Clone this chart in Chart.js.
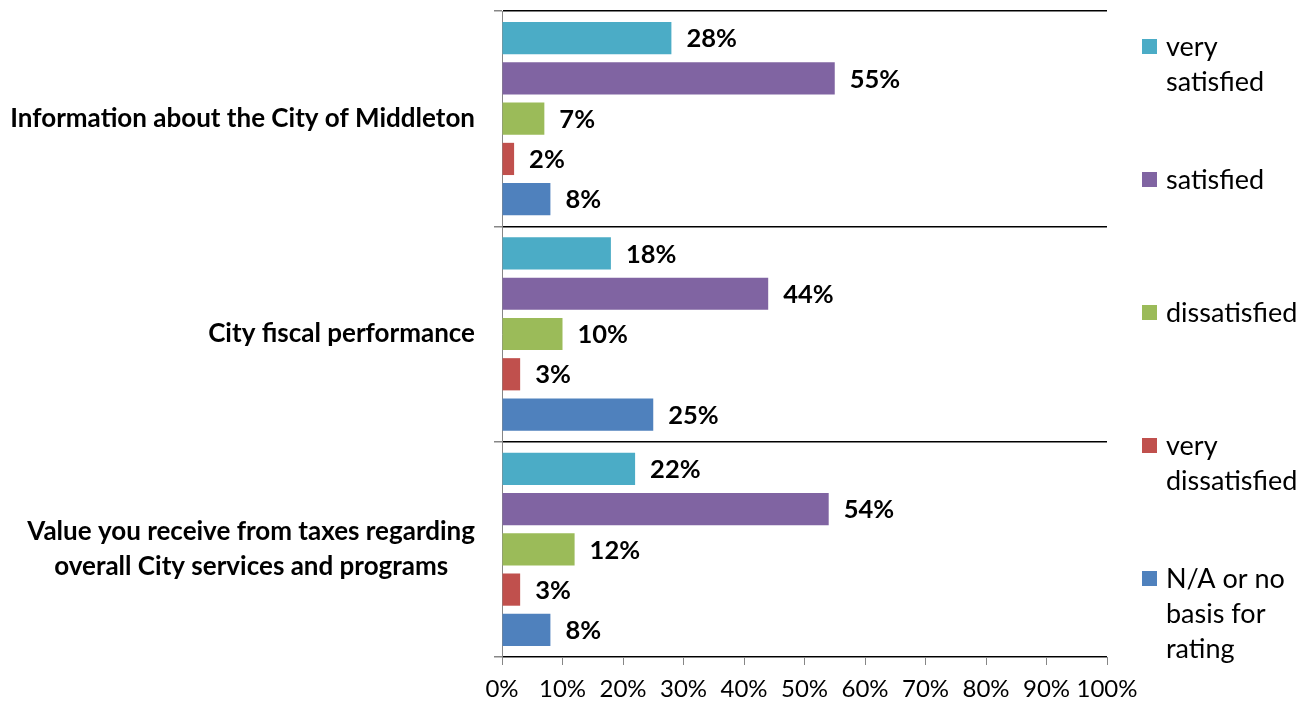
<!DOCTYPE html>
<html>
<head>
<meta charset="utf-8">
<script src="https://cdn.jsdelivr.net/npm/chart.js@4.4.1/dist/chart.umd.min.js"></script>
<style>
  html, body { margin: 0; padding: 0; background: #fff; }
  #wrap { width: 1310px; height: 703px; position: relative; }
</style>
</head>
<body>
<div id="wrap"><canvas id="chart"></canvas></div>
<script>
const categories = [
  'Information about the City of Middleton',
  'City fiscal performance',
  ['Value you receive from taxes regarding', 'overall City services and programs']
]
const seriesNames = ['very satisfied', 'satisfied', 'dissatisfied', 'very dissatisfied', 'N/A or no basis for rating']
const legendLines = [['very', 'satisfied'], ['satisfied'], ['dissatisfied'], ['very', 'dissatisfied'], ['N/A or no', 'basis for', 'rating']]
const seriesColors = ['#4BACC6', '#8064A2', '#9BBB59', '#C0504D', '#4F81BD']
const verySatisfied = [28, 18, 22]
const satisfied = [55, 44, 54]
const dissatisfied = [7, 10, 12]
const veryDissatisfied = [2, 3, 3]
const noBasis = [8, 25, 8]
const xTicks = [0, 10, 20, 30, 40, 50, 60, 70, 80, 90, 100]

const FONT = 'Lato, "Liberation Sans", sans-serif'
const values = [verySatisfied, satisfied, dissatisfied, veryDissatisfied, noBasis]

// value labels at the end of each bar
const barLabels = {
  id: 'barLabels',
  afterDatasetsDraw(chart) {
    const ctx = chart.ctx
    ctx.save()
    ctx.font = 'bold 25.5px ' + FONT
    ctx.fillStyle = '#000'
    ctx.textBaseline = 'middle'
    chart.data.datasets.forEach((ds, i) => {
      chart.getDatasetMeta(i).data.forEach((bar, j) => {
        ctx.fillText(ds.data[j] + '%', bar.x + 15, bar.y + 1)
      })
    })
    ctx.restore()
  }
}

// category labels: block right-aligned, wrapped lines centred (like Excel)
const categoryLabels = {
  id: 'categoryLabels',
  afterDraw(chart) {
    const ctx = chart.ctx
    const scale = chart.scales.y
    const right = scale.right - 8 - 19
    ctx.save()
    ctx.font = 'bold 26px ' + FONT
    ctx.fillStyle = '#000'
    ctx.textAlign = 'center'
    ctx.textBaseline = 'middle'
    chart.data.labels.forEach((label, i) => {
      const lines = Array.isArray(label) ? label : [label]
      const w = Math.max(...lines.map(l => ctx.measureText(l).width))
      const cx = right - w / 2
      const cy = scale.getPixelForTick(i)
      lines.forEach((line, k) => {
        ctx.fillText(line, cx, cy + (k - (lines.length - 1) / 2) * 35)
      })
    })
    ctx.restore()
  }
}

// legend on the right, wrapped like the original
const sideLegend = {
  id: 'sideLegend',
  afterDraw(chart) {
    const ctx = chart.ctx
    ctx.save()
    ctx.font = '27px ' + FONT
    ctx.textBaseline = 'middle'
    chart.data.datasets.forEach((ds, i) => {
      const y0 = 47 + i * 133
      ctx.fillStyle = ds.backgroundColor
      ctx.fillRect(1142, y0 - 8, 15, 15)
      ctx.fillStyle = '#000'
      legendLines[i].forEach((line, k) => {
        ctx.fillText(line, 1166, y0 + k * 35)
      })
    })
    ctx.restore()
  }
}

new Chart(document.getElementById('chart'), {
  type: 'bar',
  data: {
    labels: categories,
    datasets: seriesNames.map((name, i) => ({
      label: name,
      data: values[i],
      backgroundColor: seriesColors[i],
      borderWidth: 0,
      categoryPercentage: 0.935,
      barPercentage: 0.8
    }))
  },
  options: {
    indexAxis: 'y',
    responsive: true,
    maintainAspectRatio: false,
    animation: false,
    layout: { padding: { top: 11, right: 203, left: 0, bottom: 0 } },
    plugins: {
      legend: { display: false },
      tooltip: { enabled: false }
    },
    scales: {
      x: {
        min: 0,
        max: 100,
        afterFit(scale) { scale.height = 46 },
        afterBuildTicks(scale) { scale.ticks = xTicks.map(v => ({ value: v })) },
        border: { color: '#868686', width: 1 },
        grid: { drawOnChartArea: false, drawTicks: true, tickLength: 8, color: '#868686' },
        ticks: {
          padding: 10,
          color: '#000',
          autoSkip: false,
          maxRotation: 0,
          minRotation: 0,
          font: { family: FONT, size: 24 },
          callback: v => v + '%'
        }
      },
      y: {
        afterFit(scale) { scale.width = 502; scale.paddingTop = 0; scale.paddingBottom = 0 },
        border: { color: '#868686', width: 1 },
        grid: {
          color: ctx => ctx.index === categories.length ? '#868686' : '#000',
          tickColor: '#868686',
          tickLength: 8,
          lineWidth: 1.5
        },
        ticks: {
          padding: 17,
          color: 'rgba(0,0,0,0)',
          font: { family: FONT, size: 26, weight: 'bold', lineHeight: 1.35 }
        }
      }
    }
  },
  plugins: [barLabels, categoryLabels, sideLegend]
})
</script>
</body>
</html>
